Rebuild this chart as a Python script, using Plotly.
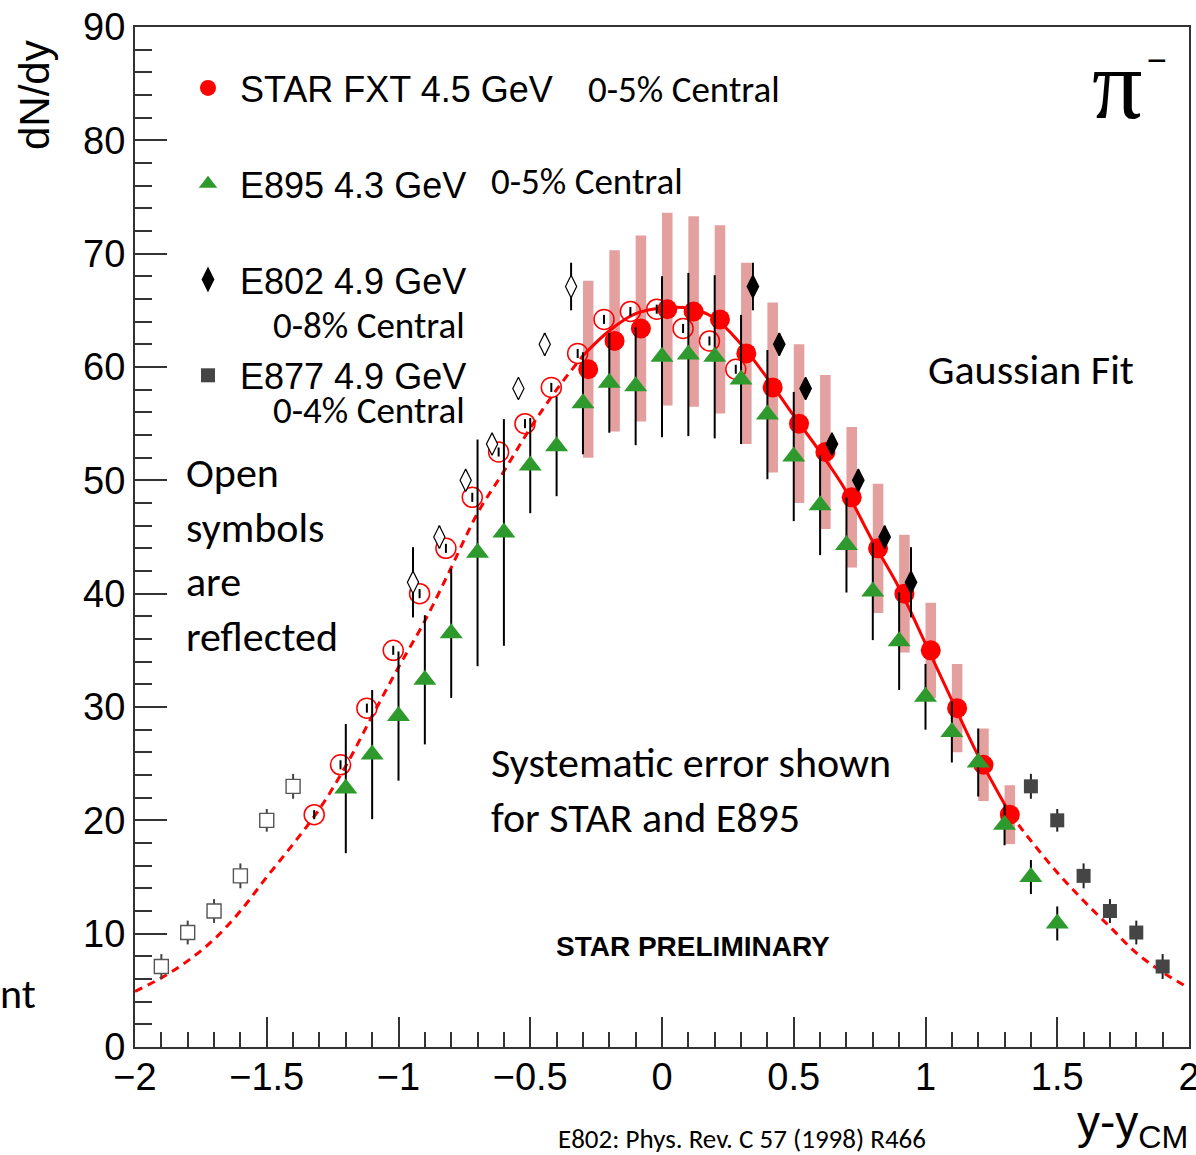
import plotly.graph_objects as go

# ---------------- data ----------------
star_x = [-0.28, -0.18, -0.08, 0.02, 0.12, 0.22, 0.32, 0.42, 0.52, 0.62, 0.72, 0.82, 0.92, 1.02, 1.12, 1.22, 1.32]
star_y = [59.8, 62.3, 63.4, 65.1, 64.9, 64.2, 61.2, 58.2, 55.0, 52.5, 48.5, 44.0, 40.0, 35.0, 29.9, 24.9, 20.5]
star_stat = [0.4, 0.4, 0.4, 0.4, 0.4, 0.4, 0.4, 0.4, 0.4, 0.4, 0.4, 0.4, 0.4, 0.4, 0.4, 0.4, 0.4]
star_sys = [7.8, 8.0, 8.2, 8.5, 8.4, 8.3, 8.0, 7.5, 7.0, 6.8, 6.2, 5.7, 5.2, 4.2, 3.9, 3.2, 2.6]

e895_x = [-1.2, -1.1, -1.0, -0.9, -0.8, -0.7, -0.6, -0.5, -0.4, -0.3, -0.2, -0.1, 0.0, 0.1,
          0.2, 0.3, 0.4, 0.5, 0.6, 0.7, 0.8, 0.9, 1.0, 1.1, 1.2, 1.3, 1.4, 1.5]
e895_y = [22.8, 25.8, 29.2, 32.4, 36.5, 43.6, 45.4, 51.3, 53.0, 56.8, 58.6, 58.3, 60.9, 61.1,
          60.9, 58.9, 55.8, 52.1, 47.8, 44.3, 40.2, 35.8, 30.9, 27.8, 25.1, 19.6, 15.0, 10.9]
e895_err = [5.7, 5.7, 5.7, 5.7, 5.7, 10.0, 10.0, 4.2, 4.4, 4.5, 4.4, 5.2, 7.1, 7.2,
            7.2, 5.7, 5.7, 5.7, 4.4, 4.2, 4.3, 4.3, 2.9, 2.7, 3.0, 1.8, 1.5, 1.5]

e802_x = [0.345, 0.445, 0.545, 0.645, 0.745, 0.845, 0.945]
e802_y = [67.1, 62.0, 58.1, 53.2, 50.0, 45.0, 41.0]
e802_err = [2.1, 1.0, 0.9, 0.9, 0.9, 1.0, 3.1]

e877_x = [1.4, 1.5, 1.6, 1.7, 1.8, 1.9]
e877_y = [23.0, 20.0, 15.1, 12.0, 10.1, 7.1]
e877_err = [1.1, 1.0, 1.1, 1.05, 1.05, 1.1]

# Gaussian fit curve
fit_left_x = [-2.0, -1.9, -1.8, -1.7, -1.6, -1.5, -1.4, -1.3, -1.2, -1.1, -1.0, -0.9, -0.8, -0.7, -0.6, -0.5, -0.4, -0.3]
fit_left_y = [4.9, 6.1, 7.6, 9.5, 12.0, 15.0, 17.9, 21.0, 24.8, 29.2, 33.5, 37.6, 42.3, 47.1, 50.8, 54.6, 58.0, 61.0]
fit_mid_x = [-0.3, -0.2, -0.1, 0.0, 0.1, 0.2, 0.3, 0.4, 0.5, 0.6, 0.7, 0.8, 0.9, 1.0, 1.1, 1.2, 1.32]
fit_mid_y = [61.0, 63.2, 64.7, 65.2, 65.2, 64.3, 62.0, 59.0, 55.7, 52.5, 49.0, 44.6, 40.5, 35.6, 30.6, 25.7, 20.6]
fit_right_x = [1.32, 1.4, 1.5, 1.6, 1.7, 1.8, 1.9, 2.0]
fit_right_y = [20.6, 18.2, 15.4, 12.9, 10.6, 8.3, 6.6, 5.2]

x_ticks = [-2, -1.5, -1, -0.5, 0, 0.5, 1, 1.5, 2]
y_ticks = [0, 10, 20, 30, 40, 50, 60, 70, 80, 90]

# ---------------- styling ----------------
RED = "#ff0000"
GREEN = "#2e9a2e"
GREY = "#454545"
ARIAL = "Liberation Sans, Arial, sans-serif"
CALI = "Calibri, Carlito, Lato, sans-serif"

W, H = 1196, 1155
L, R, T, B = 135, 1189, 27, 1047


def px(xp):
    return (xp - L) / (R - L)


def py(yp):
    return (B - yp) / (B - T)


fig = go.Figure()

# STAR systematic boxes
fig.add_trace(go.Bar(
    x=star_x, y=[2 * s for s in star_sys], base=[v - s for v, s in zip(star_y, star_sys)],
    width=0.04, marker=dict(color="rgba(210,95,95,0.6)", line=dict(width=0)),
    showlegend=False, hoverinfo="skip"))

# fit curve
fit_line = dict(color=RED, width=3, shape="spline")
fig.add_trace(go.Scatter(x=fit_left_x, y=fit_left_y, mode="lines",
                         line=dict(fit_line, dash="8px,6px"), showlegend=False))
fig.add_trace(go.Scatter(x=fit_mid_x, y=fit_mid_y, mode="lines",
                         line=fit_line, showlegend=False))
fig.add_trace(go.Scatter(x=fit_right_x, y=fit_right_y, mode="lines",
                         line=dict(fit_line, dash="8px,6px"), showlegend=False))

err = lambda a: dict(type="data", array=a, color="black", thickness=2, width=0)

# STAR
fig.add_trace(go.Scatter(x=star_x, y=star_y, mode="markers", name="STAR FXT 4.5 GeV",
                         legendgroup="a", error_y=err(star_stat),
                         marker=dict(symbol="circle", size=20, color=RED)))
fig.add_trace(go.Scatter(x=[-v for v in star_x], y=star_y, mode="markers", showlegend=False,
                         error_y=err(star_stat),
                         marker=dict(symbol="circle-open", size=20, color=RED, line=dict(width=1.5))))
# E895
fig.add_trace(go.Scatter(x=e895_x, y=e895_y, mode="markers", name="E895 4.3 GeV",
                         legendgroup="b", error_y=err(e895_err),
                         marker=dict(symbol="triangle-up", size=20, color=GREEN)))
# E802
fig.add_trace(go.Scatter(x=e802_x, y=e802_y, mode="markers", name="E802 4.9 GeV",
                         legendgroup="c", error_y=err(e802_err),
                         marker=dict(symbol="diamond-tall", size=16, color="black",
                                     line=dict(width=1.5, color="black"))))
fig.add_trace(go.Scatter(x=[-v for v in e802_x], y=e802_y, mode="markers", showlegend=False,
                         error_y=err(e802_err),
                         marker=dict(symbol="diamond-tall", size=16, color="white",
                                     line=dict(width=1.2, color="black"))))
# E877
fig.add_trace(go.Scatter(x=e877_x, y=e877_y, mode="markers", name="E877 4.9 GeV",
                         legendgroup="d", error_y=dict(err(e877_err), color="#222"),
                         marker=dict(symbol="square", size=14, color=GREY)))
fig.add_trace(go.Scatter(x=[-v for v in e877_x], y=e877_y, mode="markers", showlegend=False,
                         error_y=dict(err(e877_err), color="#444"),
                         marker=dict(symbol="square", size=14, color="white",
                                     line=dict(width=1.4, color="#555"))))

axis_common = dict(showline=True, mirror=True, linecolor="#333", linewidth=2,
                   showgrid=False, zeroline=False, ticks="inside", tickcolor="#333",
                   tickwidth=1.5, tickfont=dict(family=ARIAL, size=38, color="black"),
                   ticklabeloverflow="allow", automargin=False)

fig.update_xaxes(axis_common, range=[-2, 2], tickvals=x_ticks, ticklen=30,
                 minor=dict(dtick=0.1, ticks="inside", ticklen=15, tickcolor="#333", tickwidth=1.5),
                 ticklabelstandoff=-5)
fig.update_yaxes(axis_common, range=[0, 90], tickvals=y_ticks, ticklen=32,
                 minor=dict(dtick=2, ticks="inside", ticklen=17, tickcolor="#333", tickwidth=1.5),
                 ticklabelstandoff=0)

ann = []


def text(s, x, y, xa="left", ya="middle", fam=CALI, size=37, **kw):
    ann.append(dict(text=s, x=px(x), y=py(y), xref="paper", yref="paper", xanchor=xa,
                    yanchor=ya, showarrow=False, font=dict(family=fam, size=size, color="black"), **kw))


text("0-5% Central", 586, 89)
text("0-5% Central", 489, 181)
text("0-8% Central", 467, 326, xa="right")
text("0-4% Central", 467, 410, xa="right")
text("Open<br>symbols<br>are<br>reflected", 184, 555, size=42, align="left")
text("Gaussian Fit", 926, 369, size=42)
text("Systematic error shown<br>for STAR and E895", 489, 790, size=42, align="left")
text("<b>STAR PRELIMINARY</b>", 693, 946, xa="center", fam=ARIAL, size=28)
text("E802: Phys. Rev. C 57 (1998) R466", 556, 1138, size=27)
text("nt", -2, 993, size=42)
text("\u03c0", 1117, 84, xa="center", fam="Liberation Serif, Times New Roman, serif", size=100)
text("\u2212", 1157, 60, xa="center", fam=ARIAL, size=34)
text("dN/dy", 35, 95, xa="center", fam=ARIAL, size=42, textangle=-90)
text("y-y<sub>CM</sub>", 1190, 1125, xa="right", fam=ARIAL, size=46)

fig.update_layout(
    width=W, height=H, margin=dict(l=L, r=W - R, t=T, b=H - B, autoexpand=False),
    paper_bgcolor="white", plot_bgcolor="white", barmode="overlay",
    annotations=ann,
    legend=dict(x=px(176), y=py(58), xanchor="left", yanchor="top",
                font=dict(family=ARIAL, size=36, color="black"),
                bgcolor="rgba(0,0,0,0)", itemwidth=54, traceorder="grouped",
                tracegroupgap=46, itemclick=False),
)

fig.write_html("out.html")
